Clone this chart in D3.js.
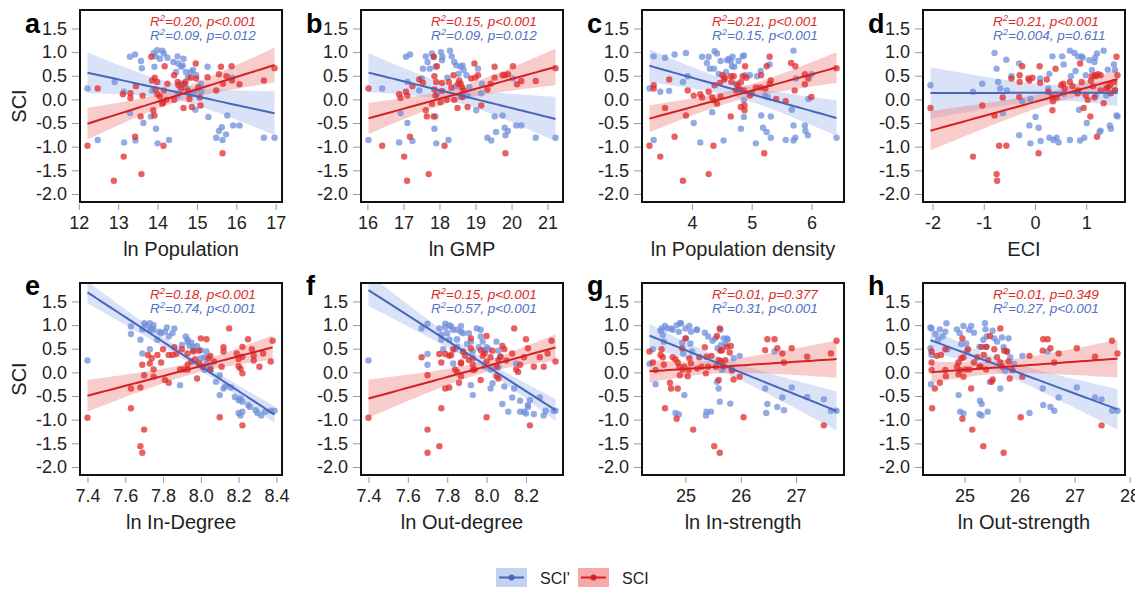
<!DOCTYPE html>
<html>
<head>
<meta charset="utf-8">
<script src="https://d3js.org/d3.v7.min.js"></script>
<title>SCI scatter panels</title>
<style>
body{margin:0;background:#fff;}
svg text{font-family:"Liberation Sans",Arial,sans-serif;}
</style>
</head>
<body>
<div id="chart"></div>
<script>
// each point is [x, y]; red = SCI, blue = SCI'
var popRed = [[12.22,-0.98],[12.48,0.23],[12.89,-1.72],[13.14,-1.21],[13.12,0.11],[13.31,0.13],[13.31,0.03],[13.43,-0.79],[13.45,0.28],[13.59,-1.58],[13.57,-0.36],[13.62,0.08],[13.84,0.90],[13.89,-0.23],[13.92,-0.34],[13.86,0.40],[13.93,0.46],[13.99,0.37],[13.95,0.21],[14.00,0.11],[14.06,0.06],[14.14,-0.06],[14.12,-0.09],[14.15,-0.98],[14.18,0.70],[14.16,0.19],[14.25,0.33],[14.23,-0.01],[14.42,-0.01],[14.42,0.51],[14.51,0.37],[14.53,0.30],[14.60,0.23],[14.66,-0.18],[14.68,0.33],[14.71,0.37],[14.77,0.19],[14.81,0.01],[14.84,0.46],[14.87,-0.16],[14.97,0.76],[14.98,0.44],[15.03,0.25],[15.09,-0.13],[15.07,0.04],[15.27,0.47],[15.49,0.19],[15.56,0.53],[15.61,0.69],[15.65,-1.14],[15.66,0.33],[15.75,0.49],[15.88,0.70],[15.89,0.40],[16.08,0.32],[16.70,0.40],[16.97,0.66]];
var popBlue = [[12.22,0.23],[12.48,-0.86],[12.91,0.37],[13.14,0.16],[13.15,-0.91],[13.30,0.90],[13.43,0.95],[13.30,-0.29],[13.44,-0.87],[13.58,0.81],[13.60,0.66],[13.64,-0.50],[13.83,-0.36],[13.90,0.98],[13.95,0.91],[13.99,1.04],[14.06,0.86],[14.12,1.03],[14.16,0.97],[14.25,0.88],[13.96,-0.62],[14.00,-0.93],[13.86,0.18],[13.92,0.69],[14.29,-0.86],[14.40,0.79],[14.51,0.91],[14.52,0.76],[14.60,0.69],[14.66,0.86],[14.64,0.72],[14.47,0.58],[14.72,0.58],[14.77,0.47],[14.85,0.58],[14.90,0.62],[14.98,0.51],[14.60,0.33],[14.72,0.25],[14.51,0.08],[14.81,0.12],[14.94,0.16],[15.10,0.33],[15.11,0.16],[14.96,-0.22],[15.27,0.69],[15.29,-0.37],[15.49,-0.81],[15.56,-0.67],[15.63,-0.59],[15.65,-0.86],[15.74,-0.74],[15.77,-0.34],[15.89,0.46],[15.92,-0.55],[16.08,-0.55],[16.70,-0.81],[16.97,-0.81]];

var gmpRed = [[16.03,0.23],[16.41,-0.98],[16.88,0.11],[16.92,0.03],[17.02,-1.21],[17.10,-1.72],[17.07,0.16],[17.11,0.08],[17.18,-0.79],[17.25,0.28],[17.44,0.42],[17.54,0.35],[17.62,-0.23],[17.65,-0.36],[17.70,-1.58],[17.79,-0.09],[17.84,-0.36],[17.84,0.90],[17.86,0.49],[17.91,0.37],[17.86,0.21],[17.89,0.08],[17.93,0.70],[18.03,-0.06],[18.07,0.35],[18.07,0.18],[18.14,-0.98],[18.20,-0.01],[18.26,0.37],[18.33,0.25],[18.39,0.51],[18.41,-0.01],[18.50,-0.18],[18.52,0.33],[18.55,0.40],[18.59,0.33],[18.62,0.25],[18.67,0.19],[18.64,0.05],[18.78,-0.16],[18.88,0.44],[18.97,0.76],[18.99,0.46],[19.07,0.51],[19.16,-0.13],[19.33,0.21],[19.42,0.33],[19.53,0.69],[19.53,0.46],[19.75,0.51],[19.81,0.51],[19.83,-1.14],[19.90,0.53],[20.04,0.70],[20.15,0.32],[20.27,0.39],[20.67,0.39],[21.22,0.66]];
var gmpBlue = [[16.03,-0.86],[16.41,0.23],[16.88,-0.91],[16.92,-0.29],[17.07,0.90],[17.18,0.95],[17.11,0.37],[17.11,-0.50],[17.25,-0.88],[17.44,0.19],[17.51,0.44],[17.54,0.65],[17.62,0.91],[17.67,0.79],[17.73,0.65],[17.79,0.97],[17.84,0.90],[17.86,-0.62],[17.89,-0.36],[17.91,-0.93],[17.89,0.69],[17.93,0.12],[18.04,1.00],[18.08,0.90],[18.07,0.83],[18.25,-0.86],[18.29,1.03],[18.34,0.91],[18.41,0.79],[18.47,0.72],[18.22,0.46],[18.53,0.54],[18.59,0.69],[18.64,0.72],[18.67,0.62],[18.75,0.51],[18.83,0.26],[18.45,0.28],[18.59,0.06],[18.78,0.08],[19.02,-0.23],[19.07,0.65],[19.18,0.33],[19.16,0.13],[19.33,-0.81],[19.44,-0.87],[19.53,-0.36],[19.57,-0.69],[19.75,-0.34],[19.81,-0.60],[19.83,-0.76],[19.90,-0.67],[20.04,0.44],[20.13,-0.55],[20.27,-0.55],[20.67,-0.81],[21.22,-0.81]];

var denRed = [[3.29,-0.98],[3.36,0.30],[3.36,0.23],[3.47,-1.21],[3.55,-0.18],[3.62,0.42],[3.71,-0.79],[3.85,-1.72],[3.90,-0.34],[3.93,0.19],[4.03,0.08],[4.14,0.11],[4.17,0.04],[4.28,-1.58],[4.28,0.16],[4.34,0.04],[4.36,-0.98],[4.37,-0.02],[4.38,0.30],[4.42,-0.09],[4.47,0.35],[4.48,0.06],[4.51,0.51],[4.55,0.46],[4.54,0.42],[4.65,-0.36],[4.65,0.49],[4.66,0.37],[4.70,0.49],[4.74,0.19],[4.76,0.30],[4.79,0.23],[4.82,0.37],[4.82,-0.16],[4.85,0.49],[4.87,0.19],[4.88,-0.23],[4.88,-0.13],[4.89,0.70],[4.91,0.46],[4.97,0.08],[5.00,0.13],[5.07,0.25],[5.15,0.25],[5.16,0.51],[5.21,-1.14],[5.25,0.70],[5.23,0.23],[5.30,0.90],[5.30,0.33],[5.32,0.40],[5.41,0.01],[5.57,-0.04],[5.66,0.77],[5.72,0.19],[5.73,0.70],[5.89,0.53],[5.89,0.32],[5.95,0.44],[6.00,0.05],[6.42,0.66]];
var denBlue = [[3.29,0.23],[3.36,0.91],[3.36,-0.86],[3.47,0.16],[3.55,0.88],[3.62,0.18],[3.71,0.95],[3.85,0.37],[3.90,0.98],[3.93,0.49],[4.03,-0.50],[4.14,-0.91],[4.17,0.90],[4.25,0.77],[4.28,0.90],[4.30,0.65],[4.34,-0.27],[4.37,0.65],[4.38,1.02],[4.42,0.97],[4.45,0.54],[4.48,0.81],[4.53,-0.87],[4.57,0.58],[4.59,0.83],[4.62,0.86],[4.65,0.81],[4.68,0.90],[4.67,0.70],[4.71,0.69],[4.74,0.33],[4.78,0.81],[4.82,0.19],[4.82,-0.62],[4.85,0.91],[4.87,0.93],[4.87,-0.02],[4.87,-0.37],[4.89,0.51],[4.97,0.51],[5.07,-0.93],[5.09,0.49],[5.15,0.60],[5.16,-0.34],[5.19,-0.60],[5.22,0.08],[5.25,-0.69],[5.27,0.05],[5.30,0.74],[5.32,-0.36],[5.32,-0.81],[5.57,-0.86],[5.67,-0.22],[5.70,1.03],[5.70,-0.55],[5.70,-0.87],[5.73,-0.81],[5.74,0.44],[5.89,-0.55],[5.90,-0.67],[5.94,-0.76],[5.95,0.01],[6.00,0.53],[6.42,-0.81]];

var eciRed = [[-2.04,-0.18],[-1.21,-1.21],[-1.03,-0.13],[-0.79,-0.34],[-0.75,-1.58],[-0.74,-1.72],[-0.70,-0.98],[-0.63,0.04],[-0.56,-0.98],[-0.46,0.44],[-0.31,0.05],[-0.30,0.37],[-0.30,0.51],[-0.25,0.70],[-0.13,0.44],[-0.11,0.40],[-0.05,0.46],[0.07,-1.14],[0.09,0.70],[0.10,0.35],[0.23,0.42],[0.26,0.16],[0.33,0.05],[0.34,-0.23],[0.35,-0.04],[0.40,0.65],[0.42,0.04],[0.51,0.30],[0.55,0.33],[0.58,0.23],[0.68,0.37],[0.73,0.28],[0.83,0.13],[0.84,0.19],[0.88,0.76],[0.91,0.37],[0.95,-0.18],[0.99,0.08],[1.03,-0.01],[1.08,-0.36],[1.09,0.40],[1.11,0.49],[1.13,0.28],[1.16,0.04],[1.17,0.51],[1.19,0.49],[1.21,-0.79],[1.23,0.53],[1.28,0.51],[1.28,0.19],[1.34,-0.08],[1.39,0.23],[1.42,0.26],[1.46,0.30],[1.48,0.13],[1.54,0.37],[1.56,0.19],[1.59,0.90],[1.61,0.51]];
var eciBlue = [[-2.04,0.30],[-1.21,0.16],[-1.03,0.33],[-0.79,0.98],[-0.75,0.65],[-0.72,0.37],[-0.68,0.23],[-0.63,-0.29],[-0.56,0.84],[-0.55,0.19],[-0.46,0.49],[-0.31,0.76],[-0.31,-0.76],[-0.25,-0.04],[-0.11,-0.55],[-0.09,-0.93],[-0.09,0.01],[0.01,-0.37],[0.07,-0.60],[0.10,0.44],[0.11,-0.88],[0.26,0.23],[0.28,0.54],[0.28,-0.81],[0.34,0.91],[0.36,-0.86],[0.42,-0.81],[0.46,-0.91],[0.53,0.91],[0.56,0.74],[0.56,0.12],[0.68,-0.86],[0.68,1.03],[0.70,0.49],[0.77,0.98],[0.79,0.60],[0.84,0.91],[0.86,-0.22],[0.88,-0.87],[0.91,0.91],[0.93,0.88],[0.96,-0.81],[0.99,0.51],[1.01,-0.50],[1.06,0.83],[1.11,0.62],[1.16,0.79],[1.17,0.88],[1.21,0.97],[1.19,0.08],[1.26,-0.69],[1.28,-0.66],[1.34,1.03],[1.39,0.08],[1.42,0.63],[1.46,-0.55],[1.48,-0.62],[1.54,0.74],[1.56,0.62],[1.59,-0.34],[1.61,-0.36],[1.56,0.19]];

var indegRed = [[7.40,-0.96],[7.63,-0.34],[7.63,-0.76],[7.68,-0.32],[7.68,-1.56],[7.69,-1.70],[7.69,0.16],[7.70,-1.21],[7.70,-0.06],[7.72,0.37],[7.73,0.19],[7.74,0.30],[7.75,-0.09],[7.75,0.06],[7.77,0.37],[7.80,0.49],[7.79,0.21],[7.81,-0.16],[7.83,-0.22],[7.83,0.37],[7.85,0.37],[7.86,0.53],[7.87,0.39],[7.89,0.06],[7.90,0.49],[7.91,0.06],[7.93,0.40],[7.93,0.16],[7.93,0.06],[7.95,0.23],[7.96,0.44],[7.97,0.28],[7.98,-0.13],[7.99,0.46],[7.99,0.19],[8.00,0.72],[8.01,0.12],[8.03,0.70],[8.04,0.30],[8.05,0.35],[8.05,0.06],[8.07,0.23],[8.10,-0.95],[8.11,0.12],[8.12,0.53],[8.12,0.44],[8.15,0.93],[8.19,0.40],[8.20,0.28],[8.20,0.13],[8.21,0.08],[8.22,0.54],[8.22,0.33],[8.22,-1.12],[8.22,-0.02],[8.25,0.70],[8.27,0.49],[8.28,0.35],[8.28,0.25],[8.31,0.12],[8.33,0.40],[8.37,0.23],[8.38,0.67]];
var indegBlue = [[7.40,0.25],[7.63,0.97],[7.63,0.81],[7.68,0.69],[7.69,0.40],[7.70,1.04],[7.69,0.91],[7.71,1.00],[7.73,0.90],[7.73,1.04],[7.74,0.93],[7.75,1.00],[7.73,0.49],[7.75,0.90],[7.77,0.69],[7.78,0.86],[7.79,0.83],[7.81,0.86],[7.82,0.95],[7.83,0.76],[7.85,0.83],[7.86,0.93],[7.89,-0.27],[7.90,0.58],[7.92,0.76],[7.93,0.65],[7.93,0.69],[7.94,0.56],[7.95,0.63],[7.96,0.47],[7.96,0.54],[7.98,0.56],[8.00,0.30],[8.00,0.47],[8.02,0.32],[8.03,0.44],[8.03,0.18],[8.05,0.12],[8.05,0.05],[8.02,0.05],[8.08,-0.20],[8.10,-0.06],[8.10,-0.48],[8.12,-0.34],[8.13,-0.30],[8.16,-0.32],[8.18,-0.52],[8.20,-0.59],[8.20,-0.86],[8.21,-0.91],[8.21,-0.55],[8.22,-0.62],[8.22,-0.83],[8.25,-0.69],[8.26,-0.73],[8.29,-0.80],[8.30,-0.86],[8.32,-0.91],[8.34,-0.83],[8.37,-0.81],[8.39,-0.81]];

var outdegRed = [[7.40,-0.96],[7.67,0.32],[7.70,-0.06],[7.70,-1.21],[7.70,-1.70],[7.76,-1.56],[7.77,-0.76],[7.76,0.39],[7.77,0.21],[7.79,-0.34],[7.81,-0.32],[7.79,0.39],[7.81,0.35],[7.82,0.37],[7.83,0.49],[7.84,0.06],[7.85,0.01],[7.86,-0.22],[7.87,-0.08],[7.87,0.21],[7.87,0.19],[7.88,0.44],[7.89,0.35],[7.91,0.26],[7.92,0.51],[7.92,0.72],[7.93,0.30],[7.93,0.05],[7.93,0.16],[7.94,0.06],[7.97,-0.16],[7.97,0.47],[7.98,0.35],[7.99,0.40],[8.00,0.77],[8.00,-0.95],[8.00,0.23],[8.02,0.32],[8.03,0.46],[8.05,-0.08],[8.05,0.12],[8.06,-0.13],[8.06,0.26],[8.07,0.33],[8.08,0.56],[8.09,0.49],[8.10,0.25],[8.13,0.40],[8.14,0.93],[8.15,0.06],[8.16,0.01],[8.17,0.16],[8.19,0.32],[8.20,0.70],[8.21,0.51],[8.22,-1.12],[8.24,0.12],[8.27,0.32],[8.29,0.12],[8.31,0.40],[8.33,0.67],[8.35,0.23]];
var outdegBlue = [[7.40,0.25],[7.67,0.93],[7.70,1.03],[7.70,0.39],[7.70,0.16],[7.76,0.93],[7.77,0.69],[7.77,0.79],[7.78,0.49],[7.79,1.03],[7.79,0.95],[7.80,0.83],[7.81,1.00],[7.81,0.69],[7.82,0.97],[7.83,0.90],[7.83,0.19],[7.85,0.70],[7.84,0.49],[7.85,0.90],[7.87,0.86],[7.87,0.98],[7.88,0.83],[7.85,0.54],[7.90,0.60],[7.91,0.83],[7.92,0.65],[7.92,-0.27],[7.93,-0.48],[7.93,0.44],[7.95,0.93],[7.96,0.53],[7.97,0.90],[7.97,0.76],[7.98,0.65],[7.99,0.47],[7.99,0.12],[7.99,0.47],[8.00,0.53],[8.01,0.49],[8.02,0.06],[8.02,-0.34],[8.03,-0.23],[8.05,0.65],[8.06,0.11],[8.06,0.46],[8.07,0.33],[8.08,-0.67],[8.09,-0.30],[8.11,-0.83],[8.14,-0.34],[8.15,0.19],[8.13,-0.53],[8.17,-0.83],[8.17,-0.60],[8.19,-0.83],[8.20,-0.87],[8.21,-0.69],[8.22,-0.59],[8.21,-0.73],[8.24,-0.88],[8.27,-0.53],[8.29,-0.91],[8.30,-0.81],[8.34,-0.81],[8.35,-0.81]];

var instrRed = [[24.35,0.44],[24.41,0.21],[24.46,0.05],[24.55,0.37],[24.57,0.49],[24.59,0.32],[24.61,0.16],[24.63,-0.76],[24.72,-0.22],[24.74,-0.34],[24.77,0.32],[24.82,0.28],[24.84,-0.98],[24.86,-0.34],[24.86,0.21],[24.89,0.12],[24.90,-0.06],[24.94,0.51],[24.95,0.06],[24.98,0.12],[25.00,0.72],[25.04,-0.08],[25.06,0.05],[25.07,0.30],[25.10,0.19],[25.14,-1.21],[25.21,0.08],[25.25,0.32],[25.29,0.12],[25.35,0.53],[25.37,-0.02],[25.38,0.33],[25.41,0.12],[25.47,0.35],[25.52,-1.56],[25.55,0.12],[25.57,0.77],[25.60,0.26],[25.60,-0.16],[25.62,0.93],[25.62,-1.70],[25.63,0.46],[25.64,0.23],[25.66,0.47],[25.69,0.13],[25.72,0.26],[25.75,0.54],[25.80,0.42],[25.82,0.56],[25.84,0.04],[25.87,-0.15],[25.98,-0.09],[26.05,-0.95],[26.44,0.47],[26.48,0.70],[26.61,0.70],[26.66,0.51],[26.75,0.40],[26.78,0.21],[26.92,0.51],[27.20,0.33],[27.50,-1.12],[27.63,0.40],[27.73,0.67]];
var instrBlue = [[24.35,0.18],[24.41,0.49],[24.46,-0.25],[24.55,0.88],[24.57,0.93],[24.59,0.79],[24.61,0.65],[24.63,0.98],[24.67,0.93],[24.74,0.93],[24.77,0.90],[24.82,-0.86],[24.84,1.00],[24.88,-0.89],[24.88,0.86],[24.90,1.04],[24.92,1.04],[24.94,0.63],[24.96,0.40],[24.98,-0.48],[25.01,0.72],[25.00,0.93],[25.07,0.98],[25.10,0.86],[25.09,0.61],[25.12,0.44],[25.20,0.90],[25.21,0.90],[25.35,0.84],[25.37,-0.91],[25.38,-0.83],[25.41,0.76],[25.46,-0.83],[25.49,0.67],[25.54,0.72],[25.57,-0.20],[25.58,0.51],[25.60,-0.34],[25.62,-0.62],[25.63,0.90],[25.64,0.58],[25.66,0.05],[25.69,0.72],[25.72,0.60],[25.75,0.72],[25.76,0.69],[25.81,-0.66],[25.84,0.06],[25.87,0.30],[25.98,0.35],[26.44,-0.34],[26.46,-0.86],[26.48,-0.67],[26.61,0.44],[26.66,-0.73],[26.75,-0.53],[26.78,-0.80],[26.92,-0.32],[27.20,-0.52],[27.50,-0.57],[27.63,-0.81],[27.73,-0.81]];

var outstrRed = [[24.40,0.44],[24.40,0.21],[24.40,0.05],[24.41,-0.76],[24.46,-0.34],[24.49,0.35],[24.55,-0.22],[24.57,0.37],[24.65,0.49],[24.66,-0.08],[24.65,0.05],[24.86,0.12],[24.89,0.21],[24.89,-0.04],[24.92,0.05],[24.94,0.30],[24.96,-0.98],[24.96,0.72],[24.98,-0.09],[24.98,0.32],[25.02,0.06],[25.06,0.49],[25.09,0.06],[25.12,-0.34],[25.14,-1.21],[25.17,0.21],[25.23,0.32],[25.27,0.12],[25.29,0.12],[25.31,0.54],[25.34,-1.56],[25.35,0.37],[25.39,0.06],[25.40,0.54],[25.43,0.26],[25.46,0.77],[25.49,-0.20],[25.51,-0.15],[25.54,0.49],[25.59,0.32],[25.65,0.93],[25.65,0.21],[25.68,0.12],[25.71,-1.70],[25.72,0.46],[25.77,0.44],[25.80,0.23],[25.82,-0.13],[25.87,0.05],[26.05,-0.09],[26.02,-0.95],[26.18,0.35],[26.42,0.46],[26.43,0.70],[26.51,0.70],[26.56,0.51],[26.63,0.21],[26.71,0.40],[27.04,0.51],[27.37,0.33],[27.49,-1.12],[27.68,0.67],[27.78,0.40]];
var outstrBlue = [[24.38,0.95],[24.40,0.93],[24.38,0.51],[24.40,0.37],[24.39,-0.25],[24.47,0.81],[24.52,0.69],[24.55,0.91],[24.60,0.76],[24.65,0.86],[24.67,1.04],[24.69,0.49],[24.86,0.91],[24.89,-0.48],[24.91,0.83],[24.92,-0.83],[24.94,0.60],[24.98,0.98],[24.98,-0.87],[25.03,0.61],[25.04,0.44],[25.08,0.90],[25.12,0.98],[25.17,0.84],[25.27,0.54],[25.27,-0.88],[25.28,-0.60],[25.31,-0.67],[25.31,-0.91],[25.34,0.69],[25.37,1.04],[25.38,0.91],[25.40,0.76],[25.42,-0.83],[25.39,0.54],[25.46,-0.20],[25.51,0.88],[25.54,0.72],[25.59,0.65],[25.65,-0.34],[25.68,0.74],[25.71,0.53],[25.74,0.04],[25.77,0.44],[25.80,0.72],[25.83,0.32],[25.90,0.18],[26.05,0.35],[26.18,-0.86],[26.42,-0.34],[26.43,-0.69],[26.56,-0.73],[26.63,-0.81],[26.51,0.44],[26.71,-0.53],[27.04,-0.32],[27.37,-0.53],[27.49,-0.57],[27.68,-0.81],[27.78,-0.81]];

var letters = ["a","b","c","d","e","f","g","h"];
var titles = ["ln Population","ln GMP","ln Population density","ECI","ln In-Degree","ln Out-degree","ln In-strength","ln Out-strength"];
var xTicks = [[12,13,14,15,16,17],[16,17,18,19,20,21],[4,5,6],[-2,-1,0,1],
              [7.4,7.6,7.8,8.0,8.2,8.4],[7.4,7.6,7.8,8.0,8.2],[25,26,27],[25,26,27,28]];
var redStats = ["=0.20, p<0.001","=0.15, p<0.001","=0.21, p<0.001","=0.21, p<0.001",
                "=0.18, p<0.001","=0.15, p<0.001","=0.01, p=0.377","=0.01, p=0.349"];
var blueStats = ["=0.09, p=0.012","=0.09, p=0.012","=0.15, p<0.001","=0.004, p=0.611",
                 "=0.74, p<0.001","=0.57, p<0.001","=0.31, p<0.001","=0.27, p<0.001"];
var redSets = [popRed,gmpRed,denRed,eciRed,indegRed,outdegRed,instrRed,outstrRed];
var blueSets = [popBlue,gmpBlue,denBlue,eciBlue,indegBlue,outdegBlue,instrBlue,outstrBlue];
var yTicks = [-2,-1.5,-1,-0.5,0,0.5,1,1.5];

var W=1135, H=596;
var colX=[80,361,642,923], rowY=[10,283], pw=202, ph=192;
var yDom=[-2.17,1.89];

var RED="#e02b2b", BLUE="#6f8fdb";
var RED_LINE="#d42020", BLUE_LINE="#4866ba";
var RED_TXT="#dc2a2a", BLUE_TXT="#5273c6";

var svg = d3.select("#chart").append("svg").attr("width",W).attr("height",H);

// least squares fit with 95% band
function fit(pts){
  var n=pts.length, mx=d3.mean(pts,d=>d[0]), my=d3.mean(pts,d=>d[1]);
  var sxx=d3.sum(pts,d=>(d[0]-mx)*(d[0]-mx)), sxy=d3.sum(pts,d=>(d[0]-mx)*(d[1]-my));
  var b=sxy/sxx, a=my-b*mx;
  var s=Math.sqrt(d3.sum(pts,d=>Math.pow(d[1]-a-b*d[0],2))/(n-2));
  var ext=d3.extent(pts,d=>d[0]);
  var out=d3.range(41).map(function(i){
    var xv=ext[0]+(ext[1]-ext[0])*i/40, yh=a+b*xv;
    var se=s*Math.sqrt(1/n+(xv-mx)*(xv-mx)/sxx);
    return {x:xv,y:yh,lo:yh-2.0*se,hi:yh+2.0*se};
  });
  return out;
}

letters.forEach(function(L,i){
  var x0=colX[i%4], y0=rowY[Math.floor(i/4)], row=Math.floor(i/4);
  var red=redSets[i], blue=blueSets[i];
  var ext=d3.extent(red.concat(blue),d=>d[0]), pad=(ext[1]-ext[0])*0.04;
  var x=d3.scaleLinear().domain([ext[0]-pad,ext[1]+pad]).range([x0,x0+pw]);
  var y=d3.scaleLinear().domain(yDom).range([y0+ph,y0]);

  svg.append("clipPath").attr("id","clip"+i).append("rect")
    .attr("x",x0).attr("y",y0).attr("width",pw).attr("height",ph);
  var g=svg.append("g").attr("clip-path","url(#clip"+i+")");

  var fb=fit(blue), fr=fit(red);
  var area=d3.area().x(d=>x(d.x)).y0(d=>y(d.lo)).y1(d=>y(d.hi));
  var line=d3.line().x(d=>x(d.x)).y(d=>y(d.y));

  g.append("path").attr("d",area(fb)).attr("fill","#9fb6ec").attr("fill-opacity",0.4);
  g.append("path").attr("d",area(fr)).attr("fill","#f08080").attr("fill-opacity",0.4);

  g.selectAll("circle.b").data(blue).enter().append("circle").attr("class","b")
    .attr("cx",d=>x(d[0])).attr("cy",d=>y(d[1])).attr("r",3.2)
    .attr("fill",BLUE).attr("fill-opacity",0.75);
  g.selectAll("circle.r").data(red).enter().append("circle").attr("class","r")
    .attr("cx",d=>x(d[0])).attr("cy",d=>y(d[1])).attr("r",3.2)
    .attr("fill",RED).attr("fill-opacity",0.75);

  g.append("path").attr("d",line(fb)).attr("fill","none").attr("stroke",BLUE_LINE).attr("stroke-width",2);
  g.append("path").attr("d",line(fr)).attr("fill","none").attr("stroke",RED_LINE).attr("stroke-width",2);

  // axes
  var ax=svg.append("g").attr("transform","translate(0,"+(y0+ph+2)+")")
    .call(d3.axisBottom(x).tickValues(xTicks[i]).tickSize(6).tickPadding(6)
      .tickFormat(i==4||i==5 ? d3.format(".1f") : d=>String(d).replace("\u2212","-")));
  ax.select(".domain").remove();
  ax.selectAll("line").attr("stroke","#999");
  ax.selectAll("text").attr("font-size",18).attr("fill","#222")
    .style("font-family","'Liberation Sans',Arial,sans-serif")
    .text(function(d){ return (i==4||i==5 ? d.toFixed(1) : String(d)); });

  var ay=svg.append("g").attr("transform","translate("+(x0-1)+",0)")
    .call(d3.axisLeft(y).tickValues(yTicks).tickSize(7).tickPadding(5));
  ay.select(".domain").remove();
  ay.selectAll("line").attr("stroke","#999");
  ay.selectAll("text").attr("font-size",18).attr("fill","#222")
    .style("font-family","'Liberation Sans',Arial,sans-serif")
    .text(d=>d.toFixed(1));

  svg.append("rect").attr("x",x0).attr("y",y0).attr("width",pw).attr("height",ph)
    .attr("fill","none").attr("stroke","#111").attr("stroke-width",2);

  svg.append("text").attr("x",x0+pw/2).attr("y",y0+ph+54).attr("text-anchor","middle")
    .attr("font-size",20).attr("fill","#222").text(titles[i]);

  svg.append("text").attr("x",x0-55).attr("y",y0+(row==0?23:12))
    .attr("font-size",27).attr("font-weight","bold").attr("fill","#000").text(L);

  [[redStats[i],RED_TXT,16],[blueStats[i],BLUE_TXT,30]].forEach(function(s){
    var t=svg.append("text").attr("x",x0+70).attr("y",y0+s[2])
      .attr("font-size",13.5).attr("font-style","italic").attr("fill",s[1]);
    t.append("tspan").text("R");
    t.append("tspan").attr("font-size",9.5).attr("dy",-5).text("2");
    t.append("tspan").attr("dy",5).text(s[0]);
  });

  if(i%4==0){
    svg.append("text").attr("transform","translate(26,"+(y0+ph/2)+") rotate(-90)")
      .attr("text-anchor","middle").attr("font-size",20).attr("fill","#222").text("SCI");
  }
});

// legend
var leg=[{name:"SCI'",fill:"#c4d2f1",line:BLUE_LINE,x:496},{name:"SCI",fill:"#f6a9a9",line:RED_LINE,x:578}];
leg.forEach(function(l){
  var g=svg.append("g");
  g.append("rect").attr("x",l.x).attr("y",568).attr("width",31).attr("height",19).attr("fill",l.fill);
  g.append("line").attr("x1",l.x+3).attr("x2",l.x+28).attr("y1",577.5).attr("y2",577.5)
    .attr("stroke",l.line).attr("stroke-width",2);
  g.append("circle").attr("cx",l.x+15.5).attr("cy",577.5).attr("r",3).attr("fill",l.line);
  g.append("text").attr("x",l.x+44).attr("y",583.5).attr("font-size",16).attr("fill","#222").text(l.name);
});
</script>
</body>
</html>
